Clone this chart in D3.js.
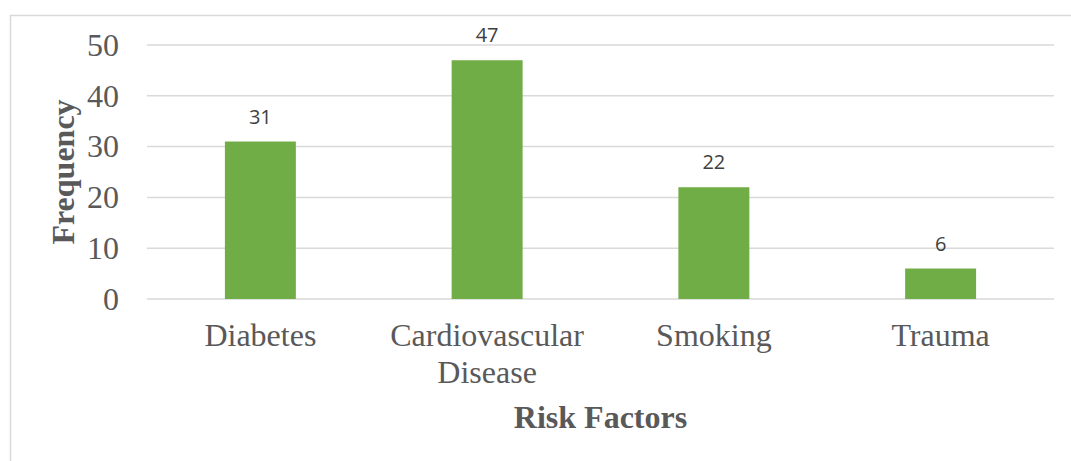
<!DOCTYPE html>
<html lang="en">
<head>
<meta charset="UTF-8">
<title>Risk Factors</title>
<script src="https://d3js.org/d3.v7.min.js"></script>
<style>
  body { margin: 0; background: #fff; }
</style>
</head>
<body>
<svg id="chart" width="1071" height="461"></svg>
<script>
// data
const categories = ["Diabetes", "Cardiovascular Disease", "Smoking", "Trauma"];
const frequency = [31, 47, 22, 6];
const yTicks = [0, 10, 20, 30, 40, 50];

const svg = d3.select("#chart");
const margin = { left: 147, right: 17, top: 45, bottom: 162 };
const width = 1071 - margin.left - margin.right;
const height = 461 - margin.top - margin.bottom;

// chart area border (the frame runs off the right and bottom edge)
svg.append("rect")
    .attr("x", 10.5).attr("y", 15.5)
    .attr("width", 1200).attr("height", 600)
    .attr("fill", "none")
    .attr("stroke", "#d9d9d9")
    .attr("stroke-width", 1.5);

const g = svg.append("g").attr("transform", `translate(${margin.left},${margin.top})`);

const x = d3.scaleBand().domain(categories).range([0, width]).paddingInner(0.687).paddingOuter(0.3435);
const y = d3.scaleLinear().domain([0, 50]).range([height, 0]);

// gridlines
g.selectAll(".grid")
    .data(yTicks)
    .enter().append("line")
    .attr("x1", 0).attr("x2", width)
    .attr("y1", d => y(d)).attr("y2", d => y(d))
    .attr("stroke", "#d9d9d9")
    .attr("stroke-width", 1.5);

// y axis labels
const yAxis = d3.axisLeft(y).tickValues(yTicks).tickSize(0).tickPadding(28);
const ya = g.append("g").call(yAxis);
ya.select(".domain").remove();
ya.selectAll("text")
    .attr("font-family", "'Liberation Serif', 'Times New Roman', serif")
    .attr("font-size", 32)
    .attr("fill", "#595959")
    .attr("dy", "0.32em");

// bars
g.selectAll(".bar")
    .data(frequency)
    .enter().append("rect")
    .attr("x", (d, i) => x(categories[i]))
    .attr("y", d => y(d))
    .attr("width", x.bandwidth())
    .attr("height", d => height - y(d))
    .attr("fill", "#70ad47");

// value labels
g.selectAll(".val")
    .data(frequency)
    .enter().append("text")
    .attr("x", (d, i) => x(categories[i]) + x.bandwidth() / 2)
    .attr("y", d => y(d) - 18)
    .attr("text-anchor", "middle")
    .attr("font-family", "'Open Sans', 'Liberation Sans', sans-serif")
    .attr("font-size", 20)
    .attr("fill", "#404040")
    .text(d => d);

// x axis labels, wrapped like the original
const xLabels = { "Cardiovascular Disease": ["Cardiovascular", "Disease"] };
const xa = g.append("g").attr("transform", `translate(0,${height})`);
categories.forEach(c => {
    const lines = xLabels[c] || [c];
    const t = xa.append("text")
        .attr("x", x(c) + x.bandwidth() / 2)
        .attr("y", 47)
        .attr("text-anchor", "middle")
        .attr("font-family", "'Liberation Serif', 'Times New Roman', serif")
        .attr("font-size", 32)
        .attr("fill", "#595959");
    lines.forEach((l, i) => {
        t.append("tspan")
            .attr("x", x(c) + x.bandwidth() / 2)
            .attr("dy", i === 0 ? 0 : 37)
            .text(l);
    });
});

// axis titles
svg.append("text")
    .attr("x", margin.left + width / 2)
    .attr("y", 428)
    .attr("text-anchor", "middle")
    .attr("font-family", "'Liberation Serif', 'Times New Roman', serif")
    .attr("font-weight", "bold")
    .attr("font-size", 32)
    .attr("fill", "#595959")
    .text("Risk Factors");

svg.append("text")
    .attr("transform", `translate(74,${margin.top + height / 2}) rotate(-90)`)
    .attr("text-anchor", "middle")
    .attr("font-family", "'Liberation Serif', 'Times New Roman', serif")
    .attr("font-weight", "bold")
    .attr("font-size", 32)
    .attr("fill", "#595959")
    .text("Frequency");
</script>
</body>
</html>
